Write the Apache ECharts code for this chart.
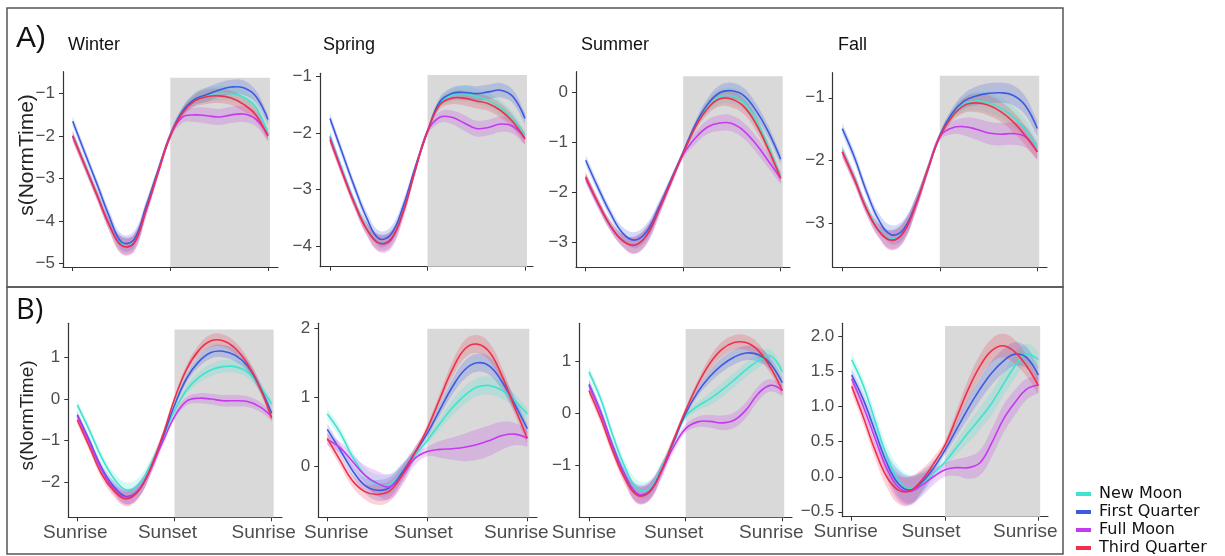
<!DOCTYPE html>
<html>
<head>
<meta charset="utf-8">
<script src="https://cdn.jsdelivr.net/npm/echarts@6/dist/echarts.min.js"></script>
<style>
html,body{margin:0;padding:0;background:#ffffff;}
#chart{width:1225px;height:556px;}
</style>
</head>
<body>
<div id="chart"></div>
<script>
// ---------------- DATA ----------------
const normTime = [0,0.125,0.25,0.375,0.5,0.625,0.75,0.875,1,1.125,1.25,1.375,1.5,1.625,1.75,1.875,2];
const phases = ['New Moon','First Quarter','Full Moon','Third Quarter'];
const seasons = ['Winter','Spring','Summer','Fall'];
const xTickValues = [0,1,2];
const xTickLabels = ['Sunrise','Sunset','Sunrise'];

// Row A
const winterA_new   = [-1.98,-2.68,-3.38,-4.08,-4.55,-4.52,-3.75,-2.85,-1.98,-1.42,-1.13,-1.03,-0.99,-1.0,-1.08,-1.32,-1.95];
const winterA_first = [-1.65,-2.4,-3.14,-3.9,-4.5,-4.45,-3.67,-2.8,-1.97,-1.41,-1.13,-1.02,-0.91,-0.84,-0.86,-1.06,-1.61];
const winterA_full  = [-2.0,-2.7,-3.4,-4.1,-4.58,-4.54,-3.76,-2.86,-1.98,-1.55,-1.5,-1.52,-1.55,-1.5,-1.48,-1.6,-1.98];
const winterA_third = [-2.0,-2.7,-3.4,-4.1,-4.58,-4.53,-3.75,-2.85,-2.0,-1.45,-1.17,-1.07,-1.05,-1.1,-1.25,-1.5,-2.0];

const springA_new   = [-2.05,-2.65,-3.22,-3.68,-3.93,-3.87,-3.38,-2.64,-1.97,-1.48,-1.33,-1.3,-1.35,-1.42,-1.55,-1.75,-2.05];
const springA_first = [-1.74,-2.35,-2.95,-3.5,-3.87,-3.8,-3.3,-2.6,-1.97,-1.45,-1.3,-1.28,-1.3,-1.27,-1.24,-1.35,-1.74];
const springA_full  = [-2.08,-2.68,-3.24,-3.7,-3.95,-3.9,-3.4,-2.65,-1.97,-1.72,-1.72,-1.82,-1.92,-1.9,-1.84,-1.88,-2.1];
const springA_third = [-2.12,-2.7,-3.25,-3.7,-3.95,-3.88,-3.4,-2.65,-1.97,-1.5,-1.38,-1.38,-1.43,-1.48,-1.6,-1.8,-2.1];

const summerA_new   = [-1.7,-2.2,-2.65,-2.95,-3.05,-2.85,-2.35,-1.78,-1.22,-0.68,-0.3,-0.1,-0.08,-0.22,-0.58,-1.1,-1.7];
const summerA_first = [-1.36,-1.9,-2.4,-2.8,-2.95,-2.78,-2.3,-1.75,-1.2,-0.65,-0.25,-0.02,0.02,-0.08,-0.38,-0.8,-1.34];
const summerA_full  = [-1.72,-2.22,-2.66,-2.96,-3.05,-2.86,-2.36,-1.8,-1.25,-0.92,-0.7,-0.62,-0.63,-0.78,-1.05,-1.38,-1.72];
const summerA_third = [-1.69,-2.2,-2.65,-2.95,-3.05,-2.85,-2.35,-1.78,-1.22,-0.7,-0.33,-0.14,-0.15,-0.3,-0.65,-1.15,-1.72];

const fallA_new   = [-1.84,-2.28,-2.76,-3.1,-3.25,-3.13,-2.7,-2.14,-1.62,-1.28,-1.1,-1.05,-1.08,-1.16,-1.3,-1.5,-1.8];
const fallA_first = [-1.49,-1.95,-2.5,-2.95,-3.18,-3.1,-2.7,-2.15,-1.6,-1.25,-1.05,-0.97,-0.93,-0.92,-0.96,-1.12,-1.49];
const fallA_full  = [-1.86,-2.3,-2.78,-3.12,-3.27,-3.15,-2.72,-2.15,-1.62,-1.48,-1.46,-1.5,-1.56,-1.58,-1.57,-1.62,-1.86];
const fallA_third = [-1.86,-2.3,-2.78,-3.12,-3.27,-3.15,-2.72,-2.15,-1.62,-1.3,-1.12,-1.08,-1.12,-1.22,-1.38,-1.6,-1.86];

// Row B
const winterB_new   = [-0.14,-0.75,-1.4,-1.9,-2.18,-2.08,-1.6,-0.95,-0.28,0.22,0.52,0.7,0.78,0.78,0.65,0.32,-0.12];
const winterB_first = [-0.38,-1.0,-1.65,-2.1,-2.34,-2.2,-1.7,-0.95,-0.15,0.5,0.9,1.12,1.15,1.05,0.8,0.3,-0.34];
const winterB_full  = [-0.4,-1.05,-1.7,-2.15,-2.36,-2.2,-1.7,-1.05,-0.42,-0.05,0.02,0.0,-0.04,-0.04,-0.06,-0.18,-0.42];
const winterB_third = [-0.5,-1.15,-1.8,-2.2,-2.4,-2.22,-1.68,-0.9,0.0,0.72,1.17,1.4,1.4,1.22,0.85,0.3,-0.46];

const springB_new   = [0.76,0.5,0.15,-0.12,-0.26,-0.25,-0.07,0.16,0.38,0.62,0.85,1.03,1.15,1.17,1.1,0.95,0.76];
const springB_first = [0.54,0.25,-0.05,-0.27,-0.34,-0.3,-0.08,0.2,0.48,0.82,1.15,1.4,1.5,1.45,1.22,0.9,0.55];
const springB_full  = [0.39,0.28,0.08,-0.12,-0.24,-0.29,-0.12,0.12,0.22,0.25,0.26,0.28,0.32,0.38,0.45,0.47,0.41];
const springB_third = [0.41,0.1,-0.2,-0.36,-0.4,-0.35,-0.12,0.2,0.55,0.98,1.4,1.7,1.77,1.65,1.3,0.85,0.41];

const summerB_new   = [0.79,0.25,-0.45,-1.05,-1.45,-1.45,-1.05,-0.55,-0.06,0.13,0.27,0.44,0.63,0.83,1.0,1.1,0.79];
const summerB_first = [0.55,0.0,-0.65,-1.2,-1.55,-1.5,-1.1,-0.55,-0.01,0.4,0.7,0.92,1.07,1.15,1.12,0.95,0.58];
const summerB_full  = [0.53,-0.02,-0.68,-1.22,-1.55,-1.5,-1.12,-0.65,-0.3,-0.17,-0.16,-0.19,-0.14,0.06,0.37,0.53,0.43];
const summerB_third = [0.43,-0.12,-0.75,-1.27,-1.58,-1.52,-1.1,-0.52,0.05,0.55,0.95,1.22,1.35,1.35,1.2,0.88,0.43];

const fallB_new   = [1.67,1.3,0.8,0.3,-0.05,-0.17,-0.1,0.05,0.21,0.42,0.63,0.83,1.05,1.32,1.58,1.75,1.67];
const fallB_first = [1.45,1.1,0.65,0.2,-0.1,-0.19,-0.08,0.12,0.38,0.68,0.98,1.25,1.48,1.65,1.75,1.7,1.45];
const fallB_full  = [1.4,1.0,0.55,0.12,-0.15,-0.21,-0.12,0.0,0.1,0.13,0.13,0.2,0.48,0.82,1.06,1.25,1.31];
const fallB_third = [1.29,0.85,0.38,0.0,-0.19,-0.2,-0.05,0.18,0.45,0.85,1.25,1.58,1.8,1.87,1.78,1.58,1.3];

// Confidence band half-widths (general / Full Moon)
const bandA1  = [0.12,0.12,0.12,0.14,0.19,0.19,0.14,0.1,0.07,0.1,0.14,0.17,0.17,0.17,0.17,0.14,0.12];
const bandA1F = [0.12,0.12,0.12,0.14,0.21,0.21,0.17,0.12,0.1,0.14,0.17,0.19,0.19,0.19,0.19,0.17,0.14];
const bandA2  = [0.09,0.09,0.09,0.11,0.14,0.14,0.11,0.07,0.05,0.08,0.11,0.13,0.13,0.13,0.13,0.12,0.1];
const bandA2F = [0.09,0.09,0.09,0.11,0.16,0.16,0.13,0.09,0.07,0.1,0.12,0.14,0.14,0.14,0.14,0.13,0.11];
const bandA3  = [0.1,0.1,0.1,0.12,0.16,0.16,0.12,0.08,0.06,0.08,0.12,0.15,0.16,0.15,0.14,0.12,0.1];
const bandA3F = [0.1,0.1,0.1,0.12,0.18,0.18,0.14,0.1,0.08,0.12,0.14,0.16,0.16,0.16,0.16,0.14,0.12];
const bandA4  = [0.09,0.09,0.09,0.11,0.15,0.15,0.11,0.07,0.05,0.08,0.12,0.15,0.16,0.16,0.16,0.15,0.12];
const bandA4F = [0.09,0.09,0.09,0.11,0.16,0.16,0.12,0.08,0.06,0.1,0.14,0.17,0.18,0.18,0.18,0.17,0.13];
const bandB1  = [0.1,0.1,0.11,0.14,0.18,0.18,0.14,0.1,0.07,0.1,0.13,0.15,0.15,0.15,0.14,0.12,0.1];
const bandB1F = [0.1,0.1,0.11,0.14,0.18,0.18,0.14,0.1,0.08,0.1,0.12,0.13,0.14,0.14,0.13,0.12,0.1];
const bandB2  = [0.08,0.08,0.09,0.11,0.15,0.15,0.12,0.08,0.06,0.08,0.11,0.13,0.13,0.13,0.12,0.1,0.08];
const bandB2F = [0.08,0.08,0.1,0.14,0.18,0.18,0.15,0.1,0.07,0.12,0.16,0.2,0.22,0.22,0.2,0.16,0.12];
const bandB3  = [0.1,0.1,0.1,0.12,0.16,0.16,0.12,0.08,0.06,0.08,0.12,0.14,0.14,0.14,0.14,0.12,0.1];
const bandB3F = [0.1,0.1,0.1,0.12,0.18,0.18,0.14,0.1,0.08,0.1,0.12,0.14,0.15,0.15,0.14,0.12,0.1];
const bandB4  = [0.1,0.1,0.12,0.15,0.2,0.2,0.16,0.1,0.07,0.1,0.14,0.16,0.17,0.17,0.17,0.15,0.12];
const bandB4F = [0.1,0.1,0.12,0.15,0.2,0.2,0.16,0.12,0.1,0.12,0.16,0.18,0.2,0.2,0.18,0.15,0.12];

// Tick values
const yTicksA1 = [-5,-4,-3,-2,-1];
const yTicksA2 = [-4,-3,-2,-1];
const yTicksA3 = [-3,-2,-1,0];
const yTicksA4 = [-3,-2,-1];
const yTicksB1 = [-2,-1,0,1];
const yTicksB2 = [0,1,2];
const yTicksB3 = [-1,0,1];
const yTicksB4 = [-0.5,0,0.5,1,1.5,2];

// Night (shaded) span in NormTime units
const nightStart = 1;
const nightEnd = 2.02;

// ---------------- PANELS ----------------
const panelData = [
  {lines:[winterA_new,winterA_first,winterA_full,winterA_third], bands:[bandA1,bandA1,bandA1F,bandA1], yTicks:yTicksA1, dec:0},
  {lines:[springA_new,springA_first,springA_full,springA_third], bands:[bandA2,bandA2,bandA2F,bandA2], yTicks:yTicksA2, dec:0},
  {lines:[summerA_new,summerA_first,summerA_full,summerA_third], bands:[bandA3,bandA3,bandA3F,bandA3], yTicks:yTicksA3, dec:0},
  {lines:[fallA_new,fallA_first,fallA_full,fallA_third], bands:[bandA4,bandA4,bandA4F,bandA4], yTicks:yTicksA4, dec:0},
  {lines:[winterB_new,winterB_first,winterB_full,winterB_third], bands:[bandB1,bandB1,bandB1F,bandB1], yTicks:yTicksB1, dec:0},
  {lines:[springB_new,springB_first,springB_full,springB_third], bands:[bandB2,bandB2,bandB2F,bandB2], yTicks:yTicksB2, dec:0},
  {lines:[summerB_new,summerB_first,summerB_full,summerB_third], bands:[bandB3,bandB3,bandB3F,bandB3], yTicks:yTicksB3, dec:0},
  {lines:[fallB_new,fallB_first,fallB_full,fallB_third], bands:[bandB4,bandB4,bandB4F,bandB4], yTicks:yTicksB4, dec:1}
];

// Layout (pixels) and axis extents
const panelLayout = [
  {left:63,    right:278,  top:71.7,  bottom:267,   x0:72.7,  x2:268,    ymin:-5.09, ymax:-0.48, grayTop:-0.62, labels:false},
  {left:320,   right:533,  top:73.3,  bottom:266.7, x0:330,   x2:525,    ymin:-4.37, ymax:-0.94, grayTop:-0.97, labels:false},
  {left:576,   right:790,  top:71.7,  bottom:267.3, x0:585.7, x2:780.7,  ymin:-3.49, ymax:0.4,   grayTop:0.31,  labels:false},
  {left:832.7, right:1047, top:72.7,  bottom:267.3, x0:842.3, x2:1037.3, ymin:-3.7,  ymax:-0.6,  grayTop:-0.65, labels:false},
  {left:68.3,  right:282,  top:323.3, bottom:517.3, x0:77.3,  x2:271.7,  ymin:-2.84, ymax:1.82,  grayTop:1.67,  labels:true, shift:[-2,-7,-8]},
  {left:318.3, right:537,  top:323.3, bottom:517.3, x0:327.3, x2:527.3,  ymin:-0.73, ymax:2.07,  grayTop:1.99,  labels:true, shift:[9,-4,-11]},
  {left:579.3, right:792,  top:323.3, bottom:517.3, x0:589,   x2:782.3,  ymin:-2.0,  ymax:1.72,  grayTop:1.61,  labels:true, shift:[-5,-12,-11]},
  {left:842.3, right:1048, top:323.3, bottom:516.7, x0:851.7, x2:1038.3, ymin:-0.57, ymax:2.19,  grayTop:2.15,  labels:true, shift:[-6,-14,-13]}
];

const lineColors = ['#3FE3CF','#3C5BE0','#C43BEE','#EE304C'];
const bandColors = ['rgba(63,227,207,0.22)','rgba(60,91,224,0.22)','rgba(196,59,238,0.22)','rgba(238,48,76,0.22)'];

const axisColor = '#333333';
const labelColor = '#4d4d4d';
const tickFont = 'Liberation Sans, Arial, sans-serif';
const SMOOTH = 0.4;

const grids = [], xAxes = [], yAxes = [], series = [];

// renderers: whole curve is drawn once (on item 0) through the axis scales (api.coord)
function makeLineRenderer(vals, color) {
  return function (params, api) {
    if (params.dataIndex !== 0) return null;
    const pts = normTime.map((t, j) => api.coord([t, vals[j]]));
    return {
      type: 'polyline',
      shape: {points: pts, smooth: SMOOTH},
      style: {stroke: color, lineWidth: 1.6, fill: null, lineJoin: 'round'},
      silent: true
    };
  };
}
function makeBandRenderer(vals, hw, color) {
  return function (params, api) {
    if (params.dataIndex !== 0) return null;
    const n = normTime.length;
    const up = normTime.map((t, j) => api.coord([t, vals[j] + hw[j]]));
    const lo = normTime.map((t, j) => api.coord([t, vals[j] - hw[j]]));
    const pts = [];
    // duplicate corner points so end edges stay straight
    pts.push(up[0]);
    for (let j = 0; j < n; j++) pts.push(up[j]);
    pts.push(up[n - 1]);
    pts.push(lo[n - 1]);
    for (let j = n - 1; j >= 0; j--) pts.push(lo[j]);
    pts.push(lo[0]);
    return {
      type: 'polygon',
      shape: {points: pts, smooth: SMOOTH},
      style: {fill: color, stroke: null},
      silent: true
    };
  };
}

panelLayout.forEach((L, i) => {
  const P = panelData[i];
  const span = L.x2 - L.x0;
  const xmin = -(L.x0 - L.left) / span * 2;
  const xmax = 2 + (L.right - L.x2) / span * 2;
  grids.push({left: L.left, top: L.top, width: L.right - L.left, height: L.bottom - L.top, containLabel: false});

  const rich = {};
  if (L.labels) {
    L.shift.forEach((s, k) => {
      rich['r' + k] = {
        fontFamily: tickFont, fontSize: 19, color: labelColor,
        padding: s >= 0 ? [0, 0, 0, 2 * s] : [0, -2 * s, 0, 0]
      };
    });
  }
  xAxes.push({
    type: 'value', gridIndex: i, min: xmin, max: xmax,
    axisLine: {show: true, onZero: false, lineStyle: {color: axisColor, width: 1.2}},
    axisTick: {show: true, length: 4, customValues: xTickValues, lineStyle: {color: axisColor, width: 1}},
    axisLabel: {
      show: L.labels, customValues: xTickValues, margin: 6,
      fontFamily: tickFont, fontSize: 19, color: labelColor,
      formatter: function (v) {
        const k = xTickValues.indexOf(Math.round(v));
        return '{r' + k + '|' + xTickLabels[k] + '}';
      },
      rich: rich
    },
    splitLine: {show: false}
  });
  yAxes.push({
    type: 'value', gridIndex: i, min: L.ymin, max: L.ymax,
    axisLine: {show: true, onZero: false, lineStyle: {color: axisColor, width: 1.2}},
    axisTick: {show: true, length: 4, customValues: P.yTicks, lineStyle: {color: axisColor, width: 1}},
    axisLabel: {
      show: true, customValues: P.yTicks, margin: 8,
      fontFamily: tickFont, fontSize: 17, color: labelColor,
      formatter: function (v) { return (v < 0 ? '\u2212' : '') + Math.abs(v).toFixed(P.dec); }
    },
    splitLine: {show: false}
  });

  // night shading
  series.push({
    type: 'line', xAxisIndex: i, yAxisIndex: i, data: [[nightStart, L.ymin]],
    symbol: 'none', lineStyle: {width: 0, opacity: 0}, silent: true, z: 0,
    markArea: {
      silent: true, itemStyle: {color: '#d9d9d9'},
      data: [[{xAxis: nightStart, yAxis: L.ymin}, {xAxis: nightEnd, yAxis: L.grayTop}]]
    }
  });

  // confidence bands
  P.lines.forEach((vals, k) => {
    series.push({
      type: 'custom', xAxisIndex: i, yAxisIndex: i, z: 1, silent: true, clip: false,
      data: normTime.map((t, j) => [t, vals[j]]),
      renderItem: makeBandRenderer(vals, P.bands[k], bandColors[k])
    });
  });

  // fitted lines
  P.lines.forEach((vals, k) => {
    series.push({
      type: 'custom', name: phases[k], xAxisIndex: i, yAxisIndex: i, z: 3, silent: true, clip: false,
      data: normTime.map((t, j) => [t, vals[j]]),
      itemStyle: {color: lineColors[k]},
      renderItem: makeLineRenderer(vals, lineColors[k])
    });
  });
});

const titleXs = [68, 323, 581, 838];
const graphics = [
  {type: 'rect', shape: {x: 7, y: 8, width: 1056, height: 279}, style: {fill: 'none', stroke: '#555555', lineWidth: 1.5}, silent: true},
  {type: 'rect', shape: {x: 7, y: 287, width: 1056, height: 267}, style: {fill: 'none', stroke: '#555555', lineWidth: 1.5}, silent: true},
  {type: 'text', x: 16, y: 39, style: {text: 'A)', fontFamily: 'Liberation Sans, Arial, sans-serif', fontSize: 30, fill: '#111111', align: 'left', verticalAlign: 'middle'}, silent: true},
  {type: 'text', x: 16, y: 310.5, style: {text: 'B)', fontFamily: 'Open Sans, sans-serif', fontSize: 29, fill: '#111111', align: 'left', verticalAlign: 'middle'}, silent: true},
  {type: 'text', x: 27.5, y: 155, rotation: Math.PI / 2, style: {text: 's(NormTime)', fontFamily: tickFont, fontSize: 21, fill: '#222222', align: 'center', verticalAlign: 'middle'}, silent: true},
  {type: 'text', x: 27.5, y: 415.5, rotation: Math.PI / 2, style: {text: 's(NormTime)', fontFamily: tickFont, fontSize: 19, fill: '#222222', align: 'center', verticalAlign: 'middle'}, silent: true}
];
seasons.forEach((s, k) => {
  graphics.push({type: 'text', x: titleXs[k], y: 45.5, style: {text: s, fontFamily: tickFont, fontSize: 18, fill: '#111111', align: 'left', verticalAlign: 'middle'}, silent: true});
});

const option = {
  backgroundColor: '#ffffff',
  animation: false,
  grid: grids,
  xAxis: xAxes,
  yAxis: yAxes,
  series: series,
  legend: {
    data: phases.map((p, k) => ({name: p, itemStyle: {color: lineColors[k]}})),
    orient: 'vertical', left: 1076, top: 486,
    itemWidth: 15, itemHeight: 4, itemGap: 2, icon: 'rect', selectedMode: false, padding: 0,
    textStyle: {fontFamily: 'DejaVu Sans, sans-serif', fontSize: 16, lineHeight: 16, color: '#111111', padding: [0, 0, 0, 3]}
  },
  graphic: graphics
};

const chart = echarts.init(document.getElementById('chart'), null, {renderer: 'canvas'});
chart.setOption(option);
</script>
</body>
</html>
